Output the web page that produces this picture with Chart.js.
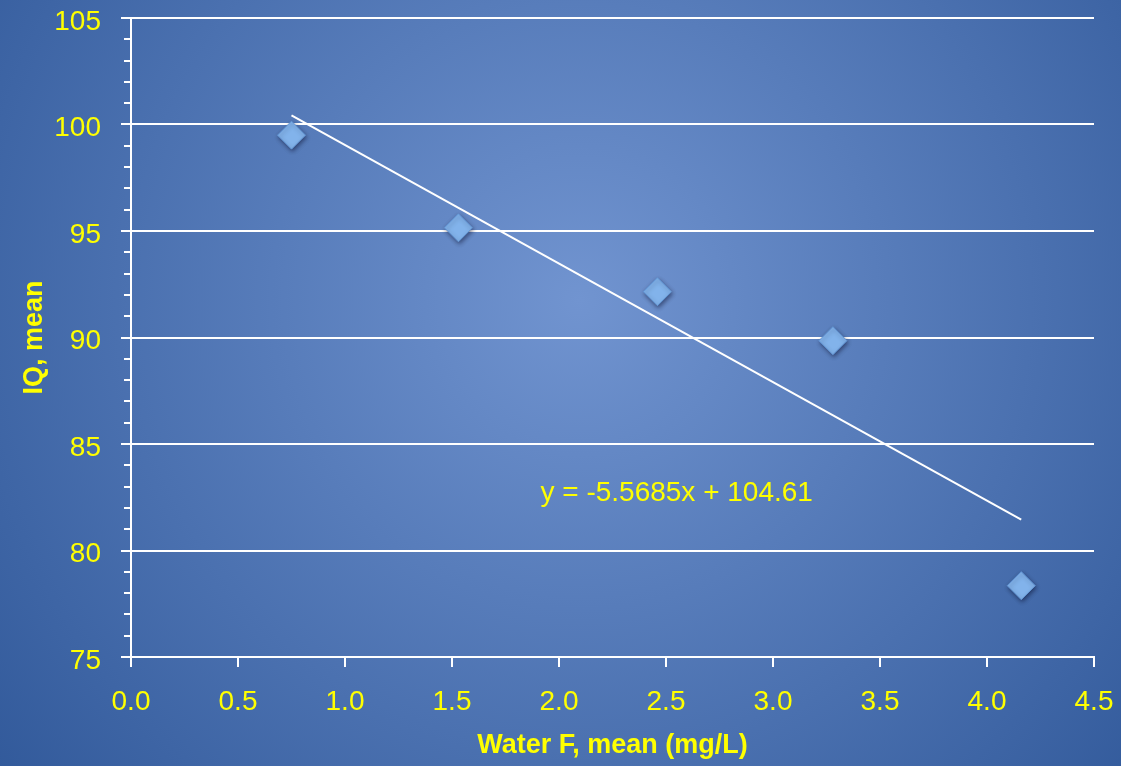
<!DOCTYPE html>
<html lang="en">
<head>
    <meta charset="UTF-8">
    <title>IQ vs Water F</title>
    <script src="https://cdn.jsdelivr.net/npm/chart.js"></script>
    <style>
        html, body { margin: 0; padding: 0; background: #3a63a3; }
        #wrap { width: 1121px; height: 766px; position: relative; }
    </style>
</head>
<body>
<div id="wrap"><canvas id="chart"></canvas></div>
<script>
// values
const fluoride = [0.75, 1.53, 2.46, 3.28, 4.16];
const iqMean = [99.5, 95.15, 92.15, 89.85, 78.35];
const trendX = [0.75, 4.16];
const trendY = [100.43, 81.45];
const equationText = 'y = -5.5685x + 104.61';
const equationAt = [2.55, 82.7];

const yellow = '#ffff00';
const fontFamily = '"Liberation Sans", Arial, sans-serif';

const bgPlugin = {
    id: 'bg',
    beforeDraw(chart) {
        const ctx = chart.ctx;
        const g = ctx.createRadialGradient(580, 300, 0, 580, 300, 760);
        g.addColorStop(0, '#7194d0');
        g.addColorStop(1, '#31599a');
        ctx.save();
        ctx.fillStyle = g;
        ctx.fillRect(0, 0, chart.width, chart.height);
        ctx.restore();
    }
};

// minor ticks on the y axis, every 1 unit, plus the equation label
const minorTicks = {
    id: 'minorTicks',
    afterDraw(chart) {
        const y = chart.scales.y;
        const left = chart.chartArea.left;
        const ctx = chart.ctx;
        ctx.save();
        ctx.strokeStyle = '#ffffff';
        ctx.lineWidth = 2;
        for (let v = y.min; v <= y.max; v++) {
            if (v % 5 === 0) continue;
            const py = Math.round(y.getPixelForValue(v));
            ctx.beginPath();
            ctx.moveTo(left - 7, py);
            ctx.lineTo(left, py);
            ctx.stroke();
        }
        ctx.fillStyle = yellow;
        ctx.font = '28px ' + fontFamily;
        ctx.textAlign = 'center';
        ctx.textBaseline = 'middle';
        ctx.fillText(equationText, chart.scales.x.getPixelForValue(equationAt[0]), y.getPixelForValue(equationAt[1]));
        ctx.restore();
    }
};

const markerShadow = {
    id: 'markerShadow',
    beforeDatasetDraw(chart, args) {
        if (args.index !== 1) return;
        const ctx = chart.ctx;
        ctx.save();
        ctx.shadowColor = 'rgba(0,0,30,0.45)';
        ctx.shadowBlur = 4;
        ctx.shadowOffsetX = 1;
        ctx.shadowOffsetY = 2;
    },
    afterDatasetDraw(chart, args) {
        if (args.index !== 1) return;
        chart.ctx.restore();
    }
};

new Chart(document.getElementById('chart'), {
    type: 'scatter',
    data: {
        datasets: [
            {
                type: 'line',
                label: 'trend',
                data: trendX.map((x, i) => ({x, y: trendY[i]})),
                borderColor: '#ffffff',
                borderWidth: 2,
                pointRadius: 0,
                fill: false
            },
            {
                label: 'IQ',
                data: fluoride.map((x, i) => ({x, y: iqMean[i]})),
                pointStyle: 'rectRot',
                pointRadius: 14,
                backgroundColor: '#82b3eb',
                borderColor: '#6296d6',
                borderWidth: 1
            }
        ]
    },
    options: {
        responsive: true,
        maintainAspectRatio: false,
        animation: false,
        layout: {padding: {left: 0, top: 18, right: 27, bottom: 0}},
        plugins: {
            legend: {display: false},
            tooltip: {enabled: false}
        },
        scales: {
            x: {
                type: 'linear',
                min: 0,
                max: 4.5,
                ticks: {
                    stepSize: 0.5,
                    color: yellow,
                    font: {family: fontFamily, size: 28},
                    padding: 18,
                    callback: v => v.toFixed(1)
                },
                grid: {
                    drawOnChartArea: false,
                    color: '#ffffff',
                    lineWidth: 2,
                    tickLength: 10
                },
                border: {color: '#ffffff', width: 2},
                title: {
                    display: true,
                    text: 'Water F, mean (mg/L)',
                    color: yellow,
                    font: {family: fontFamily, size: 27, weight: 'bold'},
                    padding: {top: 0, bottom: 4}
                },
                afterFit(scale) {
                    scale.height = 109;
                    scale.paddingLeft = 0;
                    scale.paddingRight = 0;
                }
            },
            y: {
                min: 75,
                max: 105,
                ticks: {
                    stepSize: 5,
                    color: yellow,
                    font: {family: fontFamily, size: 28},
                    padding: 20,
                    labelOffset: 4
                },
                grid: {
                    color: '#ffffff',
                    lineWidth: 2,
                    tickLength: 10
                },
                border: {color: '#ffffff', width: 2},
                title: {
                    display: true,
                    text: 'IQ, mean',
                    color: yellow,
                    font: {family: fontFamily, size: 27, weight: 'bold'},
                    padding: {top: 18, bottom: 0}
                },
                afterFit(scale) {
                    scale.width = 131;
                    scale.paddingTop = 0;
                    scale.paddingBottom = 0;
                }
            }
        }
    },
    plugins: [bgPlugin, minorTicks, markerShadow]
});
</script>
</body>
</html>
